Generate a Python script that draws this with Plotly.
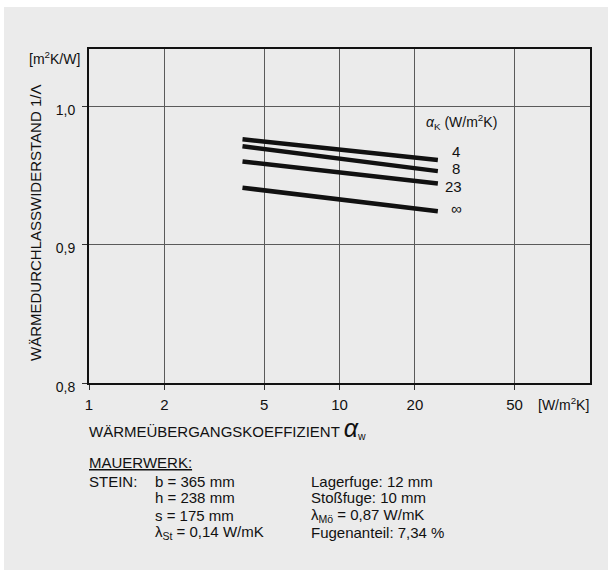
import plotly.graph_objects as go

# ---- data ----
alpha_w = [4.1, 24.7]                      # W/m²K (x extent of the curves)
series_names = ["4", "8", "23", "∞"]       # alpha_K values (W/m²K)
r_start = [0.976, 0.971, 0.960, 0.941]     # 1/Λ at alpha_w = 4.1
r_end = [0.961, 0.953, 0.944, 0.924]       # 1/Λ at alpha_w = 24.7

x_tickvals = [1, 2, 5, 10, 20, 50]
x_ticktext = ["1", "2", "5", "10", "20", "50"]
y_tickvals = [0.8, 0.9, 1.0]
y_ticktext = ["0,8", "0,9", "1,0"]

# ---- layout geometry (pixels) ----
W, H = 611, 570
L, R, T, B = 89, 21, 49, 187
PW, PH = W - L - R, H - T - B


def px(x):
    return (x - L) / PW


def py(y):
    return (H - B - y) / PH


FONT = "Liberation Sans, Arial, Helvetica, sans-serif"
TXT = "#111111"

fig = go.Figure()
for name, a, b in zip(series_names, r_start, r_end):
    fig.add_trace(go.Scatter(
        x=alpha_w, y=[a, b], mode="lines", name=name,
        line=dict(color="#111111", width=4.5), showlegend=False,
        hoverinfo="skip"))

ann = []


def text(x, y, s, size=15, xa="left", ya="middle", angle=0):
    ann.append(dict(x=px(x), y=py(y), xref="paper", yref="paper", text=s,
                    showarrow=False, xanchor=xa, yanchor=ya, textangle=angle,
                    font=dict(family=FONT, size=size, color=TXT)))


# axis units
text(82, 58, "[m<sup>2</sup>K/W]", size=14, xa="right")
text(536, 404, "[W/m<sup>2</sup>K]", size=14, xa="left")
# y title
text(35, 223, "WÄRMEDURCHLASSWIDERSTAND 1/Λ", size=15, xa="center", angle=-90)
# x title
text(87, 428, "WÄRMEÜBERGANGSKOEFFIZIENT <i><span style='font-size:25px'>α</span></i><sub>w</sub>", size=15)
# curve labels
text(424, 122, "<i>α</i><sub>K</sub> (W/m<sup>2</sup>K)", size=14)
for name, ly, lx in zip(series_names, [151, 168, 186, 208], [456, 456, 453, 456]):
    text(lx, ly, name, size=15, xa="center")
# masonry description
text(87, 462, "<u>MAUERWERK:</u>", size=15)
rows_y = [481, 498, 515, 532]
text(87, rows_y[0], "STEIN:", size=15)
left_col = ["b = 365 mm", "h = 238 mm", "s = 175 mm", "λ<sub>St</sub> = 0,14 W/mK"]
right_col = ["Lagerfuge: 12 mm", "Stoßfuge: 10 mm", "λ<sub>Mö</sub> = 0,87 W/mK", "Fugenanteil: 7,34 %"]
for yv, a, b in zip(rows_y, left_col, right_col):
    text(153, yv, a, size=15)
    text(309, yv, b, size=15)

shapes = [dict(type="rect", xref="paper", yref="paper", x0=px(4), x1=px(608),
               y0=py(7), y1=py(570), fillcolor="#ebebeb", line=dict(width=0),
               layer="below")]

axis_common = dict(showline=True, linecolor="#111111", linewidth=2, mirror=True,
                   showgrid=True, gridcolor="#5a5a5a", gridwidth=1,
                   ticks="outside", ticklen=5, tickcolor="#333333",
                   zeroline=False)

fig.update_layout(
    width=W, height=H, margin=dict(l=L, r=R, t=T, b=B, pad=0),
    paper_bgcolor="white", plot_bgcolor="rgba(0,0,0,0)",
    xaxis=dict(type="log", range=[0, 2], tickvals=x_tickvals, ticktext=x_ticktext,
               ticklabelstandoff=2, tickfont=dict(family=FONT, size=15, color=TXT),
               **axis_common),
    yaxis=dict(range=[0.8, 1.0412], tickvals=y_tickvals, ticktext=y_ticktext,
               ticklabelstandoff=4, ticklabelshift=4,
               tickfont=dict(family=FONT, size=14, color=TXT), **axis_common),
    annotations=ann, shapes=shapes, showlegend=False,
)

fig.write_html("out.html", config={"displayModeBar": False},
               post_script="document.body.style.margin='0px';")
